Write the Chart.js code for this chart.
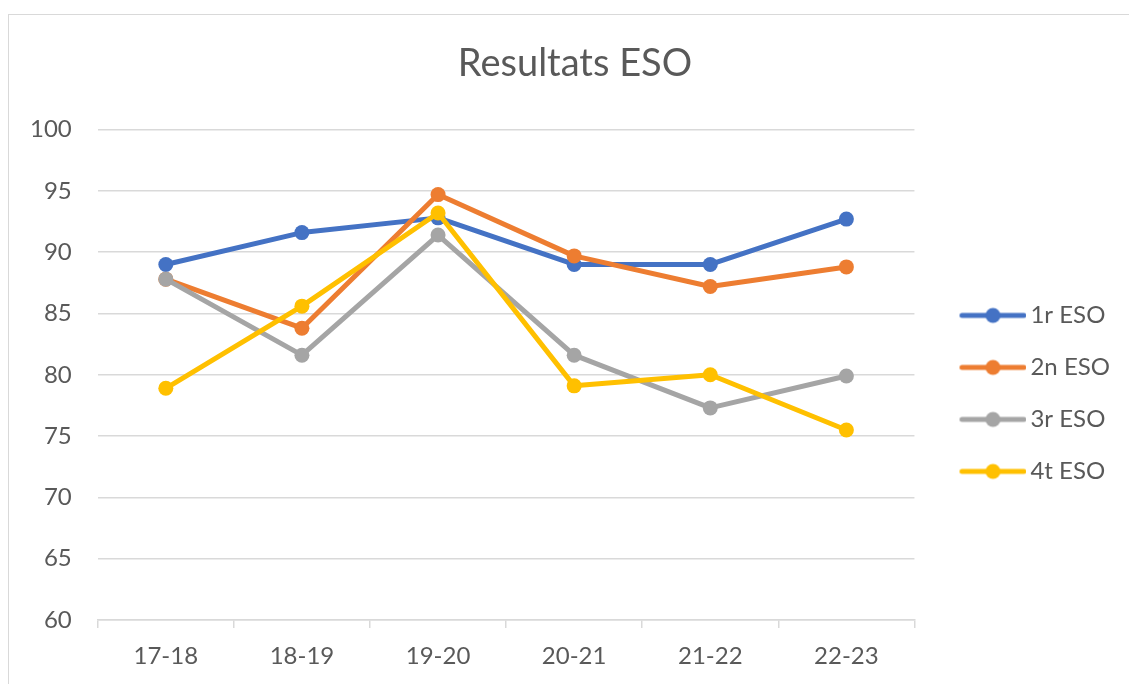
<!DOCTYPE html>
<html>
<head>
<meta charset="utf-8">
<script src="https://cdn.jsdelivr.net/npm/chart.js@4"></script>
<style>
  html, body { margin: 0; padding: 0; background: #fff; overflow: hidden; }
  #wrap { position: relative; width: 1129px; height: 684px; }
  #frame { position: absolute; left: 8px; top: 14px; width: 1200px; height: 800px; border: 1.5px solid #d9d9d9; pointer-events: none; }
  canvas { position: absolute; left: 0; top: 0; }
</style>
</head>
<body>
<div id="wrap">
  <canvas id="resultsChart" width="1129" height="684"></canvas>
  <div id="frame"></div>
</div>
<script>
const CATEGORIES = ["17-18", "18-19", "19-20", "20-21", "21-22", "22-23"];
const ESO_1 = [89.0, 91.6, 92.8, 89.0, 89.0, 92.7];
const ESO_2 = [87.8, 83.8, 94.7, 89.7, 87.2, 88.8];
const ESO_3 = [87.8, 81.6, 91.4, 81.6, 77.3, 79.9];
const ESO_4 = [78.9, 85.6, 93.2, 79.1, 80.0, 75.5];
const SERIES_NAMES = ["1r ESO", "2n ESO", "3r ESO", "4t ESO"];
const SERIES_COLORS = ["#4472C4", "#ED7D31", "#A5A5A5", "#FFC000"];

const FONT = "Lato, 'Open Sans', sans-serif";
const TEXT_COLOR = "#595959";
const GRID_COLOR = "#d9d9d9";

// legend marker: short line with a dot, like the Excel one
function legendMarker(color) {
  const c = document.createElement("canvas");
  c.width = 92;
  c.height = 18;
  const ctx = c.getContext("2d");
  ctx.strokeStyle = color;
  ctx.lineWidth = 5;
  ctx.lineCap = "round";
  ctx.beginPath();
  ctx.moveTo(27.5, 9);
  ctx.lineTo(89.5, 9);
  ctx.stroke();
  ctx.fillStyle = color;
  ctx.beginPath();
  ctx.arc(58.5, 9, 7.5, 0, Math.PI * 2);
  ctx.fill();
  return c;
}

function initResultsChart() {
  const seriesData = [ESO_1, ESO_2, ESO_3, ESO_4];
  const markers = SERIES_COLORS.map(legendMarker);

  const datasets = seriesData.map((values, i) => ({
    label: SERIES_NAMES[i],
    data: values,
    borderColor: SERIES_COLORS[i],
    backgroundColor: SERIES_COLORS[i],
    borderWidth: 5,
    borderCapStyle: "round",
    borderJoinStyle: "round",
    tension: 0,
    fill: false,
    pointRadius: 7.5,
    pointBorderWidth: 0,
    pointBackgroundColor: SERIES_COLORS[i],
    order: seriesData.length - i,
  }));

  new Chart(document.getElementById("resultsChart"), {
    type: "line",
    data: { labels: CATEGORIES, datasets: datasets },
    options: {
      responsive: false,
      animation: false,
      layout: { padding: { left: 30, right: 9, top: 0, bottom: 0 } },
      plugins: {
        title: {
          display: true,
          text: "Resultats ESO",
          color: TEXT_COLOR,
          font: { family: FONT, size: 38, weight: "normal" },
          padding: { top: 41, bottom: 43 },
        },
        legend: {
          display: true,
          position: "right",
          fullSize: false,
          title: { display: true, text: " ", font: { size: 16 }, padding: 9 },
          labels: {
            usePointStyle: true,
            pointStyleWidth: 76,
            padding: 28,
            color: TEXT_COLOR,
            font: { family: FONT, size: 24 },
            generateLabels: (chart) =>
              chart.data.datasets.map((ds, i) => ({
                text: ds.label,
                fillStyle: ds.borderColor,
                strokeStyle: ds.borderColor,
                lineWidth: 0,
                pointStyle: markers[i],
                hidden: false,
                datasetIndex: i,
                fontColor: TEXT_COLOR,
              })),
          },
        },
        tooltip: { enabled: false },
      },
      scales: {
        x: {
          offset: true,
          grid: {
            offset: true,
            drawOnChartArea: false,
            drawTicks: true,
            tickLength: 8,
            color: GRID_COLOR,
            lineWidth: 1.5,
          },
          border: { display: true, color: GRID_COLOR, width: 1.5 },
          ticks: {
            color: TEXT_COLOR,
            padding: 16,
            font: { family: FONT, size: 24, lineHeight: 1 },
          },
        },
        y: {
          min: 60,
          max: 100,
          grid: {
            color: GRID_COLOR,
            lineWidth: 1.5,
            drawTicks: true,
            tickLength: 26,
            tickColor: "rgba(0,0,0,0)",
          },
          border: { display: false },
          ticks: {
            stepSize: 5,
            padding: 0,
            color: TEXT_COLOR,
            font: { family: FONT, size: 24 },
          },
        },
      },
    },
  });
}

document.addEventListener("DOMContentLoaded", initResultsChart);
</script>
</body>
</html>
